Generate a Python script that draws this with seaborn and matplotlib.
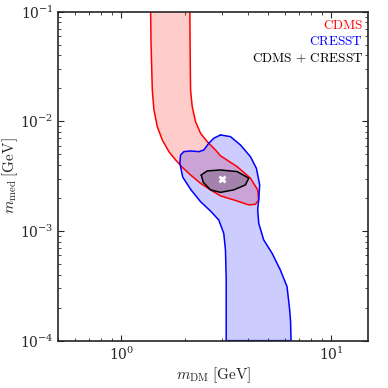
import numpy as np
import pandas as pd
import matplotlib
matplotlib.use("Agg")
import matplotlib.pyplot as plt
import seaborn as sns

# allowed regions (m_DM [GeV], m_med [GeV])
cdms_x = [1.378, 1.385, 1.404, 1.429, 1.483, 1.567, 1.684, 1.813, 1.950, 2.136,
          2.383, 2.659, 2.966, 3.431, 4.045, 4.351, 4.512, 4.462, 4.120, 3.561,
          2.966, 2.808, 2.564, 2.383, 2.256, 2.176, 2.136, 2.125, 2.120]
cdms_y = [0.1, 0.05, 0.0193, 0.0127, 0.00894, 0.00676, 0.00529, 0.00444, 0.00381, 0.00324,
          0.00272, 0.00237, 0.00209, 0.00192, 0.00173, 0.00175, 0.00192, 0.00237, 0.00303, 0.00386,
          0.00485, 0.00548, 0.00653, 0.00778, 0.00993, 0.0136, 0.0193, 0.05, 0.1]

cresst_x = [2.966, 2.756, 2.609, 2.471, 2.339, 2.136, 1.985, 1.914, 1.899, 1.960,
            2.136, 2.383, 2.659, 2.911, 3.075, 3.133, 3.158, 3.158, 6.434, 6.400,
            6.336, 6.157, 5.721, 5.224, 4.766, 4.512, 4.462, 4.512, 4.561, 4.399,
            4.120, 3.692, 3.310, 2.966]
cresst_y = [0.00751, 0.00701, 0.00631, 0.00548, 0.00529, 0.00537, 0.00529, 0.00493, 0.00415, 0.0031,
            0.0024, 0.00185, 0.00152, 0.00126, 0.00095, 0.00067, 0.00036, 0.0001, 0.0001, 0.00015,
            0.000191, 0.000311, 0.000441, 0.000627, 0.000829, 0.00118, 0.00156, 0.00192, 0.00263, 0.00373,
            0.00476, 0.00609, 0.00725, 0.00751]

comb_x = [2.401, 2.564, 2.966, 3.561, 4.045, 3.900, 3.431, 2.966, 2.659, 2.455, 2.401]
comb_y = [0.00324, 0.00353, 0.00360, 0.00348, 0.00303, 0.00263, 0.00237, 0.00225, 0.00237, 0.00278, 0.00324]

best_fit = (3.0, 0.003)

labels = [r"$\mathrm{CDMS}$", r"$\mathrm{CRESST}$", r"$\mathrm{CDMS}\,+\,\mathrm{CRESST}$"]
colors = ["red", "blue", "black"]

sns.set_style("ticks")
plt.rcParams["mathtext.fontset"] = "cm"
plt.rcParams["font.family"] = ["DejaVu Serif"]

fig = plt.figure(figsize=(3.88, 3.88), dpi=100)
ax = fig.add_axes([0.150, 0.122, 0.799, 0.848])

regions = [(cdms_x, cdms_y), (cresst_x, cresst_y), (comb_x, comb_y)]
for (xs, ys), c in zip(regions, colors):
    ax.fill(xs, ys, color=c, alpha=0.2, lw=0)
for (xs, ys), c in zip(regions, colors):
    df = pd.DataFrame({"x": xs, "y": ys})
    sns.lineplot(data=df, x="x", y="y", sort=False, estimator=None, color=c, lw=1.1, ax=ax)

ax.plot([best_fit[0]], [best_fit[1]], marker="x", color="white", ms=5, mew=2, ls="none")

ax.set_xscale("log")
ax.set_yscale("log")
ax.set_xlim(0.5, 15)
ax.set_ylim(1e-4, 1e-1)

ax.set_xlabel(r"$m_{\rm DM}\;[\mathrm{GeV}]$", fontsize=11, labelpad=2)
ax.set_ylabel(r"$m_{\rm med}\;[\mathrm{GeV}]$", fontsize=11)
ax.yaxis.set_label_coords(-0.122, 0.5)

ax.tick_params(which="both", direction="in", top=True, right=True, labelsize=10)
ax.tick_params(which="major", length=4, width=0.8)
ax.tick_params(which="minor", length=2, width=0.6)
for s in ax.spines.values():
    s.set_linewidth(1.2)

for i, (lab, c) in enumerate(zip(labels, colors)):
    ax.text(0.984, 0.959 - i * 0.051, lab, color=c, ha="right", va="center",
            fontsize=9.5, transform=ax.transAxes)

fig.savefig("out.png", dpi=100)
